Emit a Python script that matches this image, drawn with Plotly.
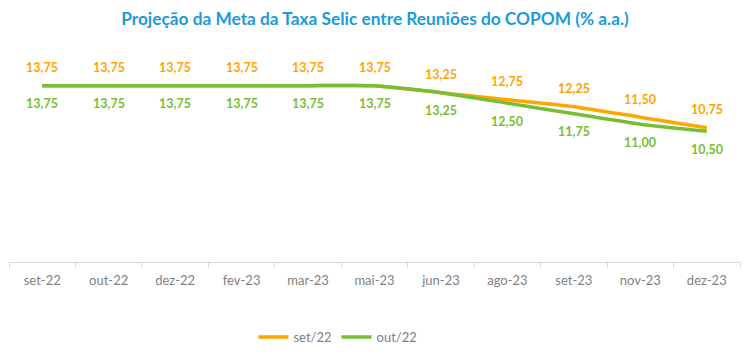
import plotly.graph_objects as go

categories = ["set-22", "out-22", "dez-22", "fev-23", "mar-23", "mai-23",
              "jun-23", "ago-23", "set-23", "nov-23", "dez-23"]
set22 = [13.75, 13.75, 13.75, 13.75, 13.75, 13.75, 13.25, 12.75, 12.25, 11.50, 10.75]
out22 = [13.75, 13.75, 13.75, 13.75, 13.75, 13.75, 13.25, 12.50, 11.75, 11.00, 10.50]

ORANGE = "#FFA500"
GREEN = "#78BE35"
FONT = "Lato"

def fmt(v):
    return f"{v:.2f}".replace(".", ",")

fig = go.Figure()
fig.add_trace(go.Scatter(
    x=categories, y=set22, name="set/22", mode="lines",
    line=dict(color=ORANGE, width=3.5, shape="spline", smoothing=0.5),
))
fig.add_trace(go.Scatter(
    x=categories, y=out22, name="out/22", mode="lines",
    line=dict(color=GREEN, width=3.5, shape="spline", smoothing=0.5),
))

annotations = []
for c, v in zip(categories, set22):
    annotations.append(dict(x=c, y=v, xref="x", yref="y", text=fmt(v), showarrow=False,
                            yshift=18, font=dict(color=ORANGE, size=12.5, family=FONT, weight="bold")))
for c, v in zip(categories, out22):
    annotations.append(dict(x=c, y=v, xref="x", yref="y", text=fmt(v), showarrow=False,
                            yshift=-18, font=dict(color=GREEN, size=12.5, family=FONT, weight="bold")))

fig.update_layout(
    width=750, height=355,
    margin=dict(l=1, r=18, t=42, b=101, autoexpand=False),
    paper_bgcolor="white", plot_bgcolor="white",
    title=dict(text="<b>Projeção da Meta da Taxa Selic entre Reuniões do COPOM (% a.a.)</b>",
               x=0.4893, xanchor="center", y=1 - 11 / 355, yanchor="middle",
               font=dict(family=FONT, size=17.3, color="#1A9BDC")),
    font=dict(family=FONT, color="#7F7F7F", size=13),
    showlegend=True,
    annotations=annotations,
    legend=dict(orientation="h", x=0.45, xanchor="center", y=-0.354, yanchor="middle",
                font=dict(size=13, color="#7F7F7F", family=FONT)),
    xaxis=dict(type="category", showgrid=False, showline=True, linecolor="#D9D9D9",
               linewidth=1, ticks="outside", ticklen=5, tickcolor="#D9D9D9",
               tickson="boundaries", ticklabelstandoff=6, automargin=False,
               tickfont=dict(size=13, color="#7F7F7F", family=FONT),
               range=[-0.5, 10.5], fixedrange=True),
    yaxis=dict(visible=False, range=[1.15, 16.3], showgrid=False, zeroline=False,
               automargin=False),
)

fig.write_html("out.html")
